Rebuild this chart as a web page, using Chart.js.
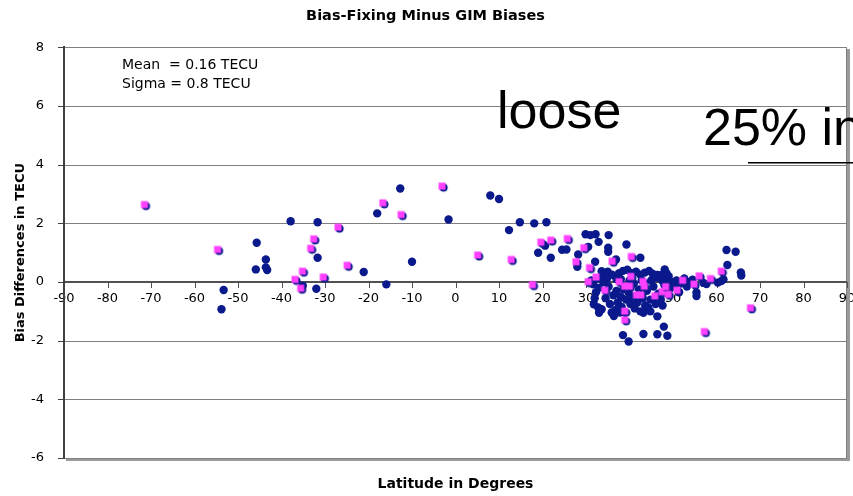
<!DOCTYPE html>
<html>
<head>
<meta charset="utf-8">
<script src="https://cdn.jsdelivr.net/npm/chart.js@4/dist/chart.umd.min.js"></script>
<style>
html,body{margin:0;padding:0;background:#fff;}
#wrap{width:853px;height:496px;}
</style>
</head>
<body>
<div id="wrap"><canvas id="c" width="853" height="496"></canvas></div>
<script>
// ---- data ----
const chartTitle = "Bias-Fixing Minus GIM Biases";
const xTitle = "Latitude in Degrees";
const yTitle = "Bias Differences in TECU";
const statLines = ["Mean  = 0.16 TECU", "Sigma = 0.8 TECU"];
const bigText1 = "loose";
const bigText2 = "25% in";

const xTickValues = [-90,-80,-70,-60,-50,-40,-30,-20,-10,0,10,20,30,40,50,60,70,80,90];
const yTickValues = [-6,-4,-2,0,2,4,6,8];

// navy circles
const blueLat = [
 -53.8,-53.3,-45.9,-45.7,-43.6,-43.6,-43.3,-37.9,-35.1,-32.0,-31.7,-31.7,-21.1,-18.0,-15.9,-12.7,-10.0,-1.6,
 8.0,10.0,12.3,14.8,18.1,19.0,20.6,20.9,21.9,24.5,25.5,28.2,28.0,29.9,31.0,32.2,32.9,35.2,30.5,35.1,35.1,39.3,
 32.1,36.9,42.5,48.1,46.4,47.3,62.3,64.4,62.5,65.6,65.7,61.1,61.6,60.3,57.0,57.7,55.4,55.4,
 46.4,47.9,46.4,48.7,43.2,38.5,39.8,36.4,37.8,44.3,42.5,
 31.2,31.7,32.3,32.0,31.8,32.8,33.0,33.6,33.6,33.9,34.0,34.5,35.0,35.2,35.5,35.9,36.0,36.3,37.0,37.0,
 37.3,37.6,38.0,38.2,38.5,38.6,39.2,39.5,39.8,40.2,40.5,40.7,41.0,41.2,41.5,41.8,42.2,42.5,43.0,43.5,
 43.6,44.0,44.5,44.8,45.3,45.5,46.0,46.3,46.6,47.2,47.5,48.0,48.6,49.2,49.6,50.2,50.8,51.4,51.8,52.6,
 53.2,53.8,54.5,36.8,39.0,40.0,42.8,45.0,34.8,33.0,38.0,43.2,44.8,47.6,48.5,49.0
];
const blueBias = [
 -0.93,-0.27,0.43,1.34,0.77,0.50,0.41,2.07,-0.13,-0.23,2.04,0.83,0.34,2.34,-0.08,3.19,0.69,2.13,
 2.95,2.83,1.77,2.04,2.00,1.00,1.24,2.04,0.83,1.10,1.11,0.94,0.52,1.63,1.60,1.63,1.37,1.60,1.20,1.17,1.03,1.28,
 0.69,0.77,0.83,0.43,0.24,0.24,1.09,1.03,0.58,0.33,0.22,0.03,0.09,-0.02,-0.03,-0.07,-0.36,-0.48,
 -1.17,-1.52,-1.78,-1.83,-1.77,-1.81,-2.03,-1.16,-1.04,-0.87,-1.00,
 0.05,-0.08,-0.35,-0.55,-0.76,-0.87,-1.05,-0.93,0.37,0.20,0.00,-0.55,0.35,-0.15,-0.75,-1.04,0.25,-0.45,0.10,-0.30,
 -0.70,0.30,-0.50,-0.85,0.38,-0.25,-0.60,0.42,-0.35,-0.75,0.30,-0.50,-0.05,-0.90,0.35,-0.70,-0.25,0.25,-0.55,0.32,
 -0.80,-0.30,0.38,-0.60,0.28,-0.15,-0.75,0.15,-0.40,-0.60,0.05,-0.10,0.10,-0.25,0.00,-0.15,0.05,-0.35,-0.05,0.12,
 -0.15,0.00,0.08,-0.95,-1.05,0.05,0.05,0.05,0.10,-0.20,0.10,-1.05,-1.00,-0.80,0.30,0.20
];

// magenta squares
const pinkLat = [
 -71.5,-54.7,-36.9,-35.2,-35.6,-33.3,-32.6,-30.4,-27.0,-24.9,-16.7,-12.5,-3.1,5.1,12.8,17.7,19.6,21.9,25.7,27.7,
 29.5,30.8,30.5,32.3,34.3,36.0,37.6,38.9,40.0,40.3,40.4,38.9,38.9,41.6,42.6,43.1,43.4,45.8,47.5,48.3,
 48.9,50.9,52.2,54.8,56.0,58.6,61.1,57.2,67.8
];
const pinkBias = [
 2.64,1.11,0.09,0.37,-0.21,1.15,1.47,0.17,1.87,0.57,2.70,2.30,3.27,0.92,0.77,-0.09,1.36,1.43,1.48,0.69,
 1.17,0.49,0.01,0.17,-0.28,0.71,0.01,-0.14,-0.14,0.19,0.87,-0.99,-1.29,-0.44,-0.44,0.02,-0.14,-0.47,-0.33,-0.16,
 -0.42,-0.28,0.06,-0.07,0.21,0.12,0.37,-1.69,-0.88
];

// ---- styles ----
const NAVY = '#0a1a8c';
const MAGENTA = '#ff40ff';

function pairs(xs, ys){ return xs.map((x,i)=>({x:x, y:ys[i]})); }

const canvasEl = document.getElementById('c');

// marker for the magenta series: square with a dark offset shadow
const sq = document.createElement('canvas');
sq.width = 18; sq.height = 18;
(function(){
  const g = sq.getContext('2d');
  g.fillStyle = NAVY;
  g.beginPath(); g.arc(10.5, 10.5, 4.1, 0, Math.PI*2); g.fill();
  g.fillStyle = MAGENTA;
  g.fillRect(5.5, 5.5, 7, 7);
})();

// plot frame, grid lines, axis lines and tick marks, placed from the chart's scales
// (drawn as thin filled rectangles)
const framePlugin = {
  id: 'frame',
  beforeDatasetsDraw(chart){
    const {ctx, chartArea:a} = chart;
    const xs = chart.scales.x, ys = chart.scales.y;
    const L = Math.round(a.left), R = Math.round(a.right), T = Math.round(a.top), B = Math.round(a.bottom);
    ctx.save();
    // shadow on right and bottom
    ctx.fillStyle = '#9a9a9a';
    ctx.fillRect(R, T + 2, 3, B - T + 1);
    ctx.fillRect(L + 2, B, R - L + 1, 3);
    // horizontal grid lines (incl. top edge)
    ctx.fillStyle = '#808080';
    yTickValues.forEach(v => {
      if (v === 0) return;
      const y = Math.round(ys.getPixelForValue(v));
      ctx.fillRect(L, y, R - L, 1);
    });
    // right frame edge
    ctx.fillRect(R - 1, T, 1, B - T);
    // y tick marks
    ctx.fillStyle = '#404040';
    yTickValues.forEach(v => {
      const y = Math.round(ys.getPixelForValue(v));
      ctx.fillRect(L - 6, y, 6, 1);
    });
    // x axis line at zero with tick marks below
    const y0 = Math.round(ys.getPixelForValue(0));
    ctx.fillStyle = '#505050';
    ctx.fillRect(L, y0 - 1, R - L, 2);
    xTickValues.forEach(v => {
      const x = Math.round(xs.getPixelForValue(v));
      ctx.fillRect(x, y0, 1, 6);
    });
    // y axis line
    ctx.fillStyle = '#404040';
    ctx.fillRect(L - 1, T - 1, 2, B - T + 2);
    ctx.restore();
  },
  afterDraw(chart){
    const {ctx} = chart;
    ctx.save();
    ctx.fillStyle = '#000';
    ctx.font = '14px "DejaVu Sans"';
    ctx.textBaseline = 'alphabetic';
    ctx.textAlign = 'left';
    ctx.fillText(statLines[0], 122, 69);
    ctx.fillText(statLines[1], 122, 88);
    ctx.font = '52px "Liberation Sans"';
    ctx.fillText(bigText1, 497, 128);
    ctx.fillText(bigText2, 703, 145);
    ctx.fillRect(748, 162, 110, 1.5);
    ctx.restore();
  }
};

new Chart(canvasEl, {
  type: 'scatter',
  data: {
    datasets: [
      { label: 'subset', data: pairs(pinkLat, pinkBias), pointStyle: sq, pointRadius: 5, pointHoverRadius: 5, order: 0 },
      { label: 'all', data: pairs(blueLat, blueBias), pointStyle: 'circle', pointRadius: 4.2, pointHoverRadius: 4.2,
        backgroundColor: NAVY, borderColor: NAVY, borderWidth: 0, order: 1 }
    ]
  },
  options: {
    responsive: false,
    animation: false,
    devicePixelRatio: 1,
    events: [],
    layout: { padding: { left: 0, right: 2, top: 0, bottom: 0 } },
    plugins: {
      legend: { display: false },
      tooltip: { enabled: false },
      title: { display: true, text: chartTitle, color: '#000',
        font: { family: 'DejaVu Sans', size: 14.5, weight: 'bold' }, padding: { top: 8, bottom: 22 } },
      subtitle: { display: true, position: 'bottom', fullSize: false, text: xTitle, color: '#000',
        font: { family: 'DejaVu Sans', size: 14, weight: 'bold' }, padding: { top: 17.6, bottom: 3.6 } }
    },
    scales: {
      x: {
        type: 'linear', min: -90, max: 90,
        position: { y: 0 },
        afterBuildTicks: s => { s.ticks = xTickValues.map(v => ({ value: v })); },
        afterFit: s => { s.paddingLeft = 0; s.paddingRight = 0; },
        ticks: { color: '#000', font: { family: 'DejaVu Sans', size: 13 }, padding: 4, maxRotation: 0, autoSkip: false },
        grid: { display: false, drawOnChartArea: false, tickLength: 5 },
        border: { display: false }
      },
      y: {
        type: 'linear', min: -6, max: 8,
        position: 'left',
        afterBuildTicks: s => { s.ticks = yTickValues.map(v => ({ value: v })); },
        afterFit: s => { s.width = 64; },
        ticks: { color: '#000', font: { family: 'DejaVu Sans', size: 13 }, padding: 14 },
        grid: { display: false, tickLength: 6 },
        border: { display: false },
        title: { display: true, text: yTitle, color: '#000',
          font: { family: 'DejaVu Sans', size: 13, weight: 'bold' }, padding: { top: 13, bottom: 0 } }
      }
    }
  },
  plugins: [framePlugin]
});
</script>
</body>
</html>
